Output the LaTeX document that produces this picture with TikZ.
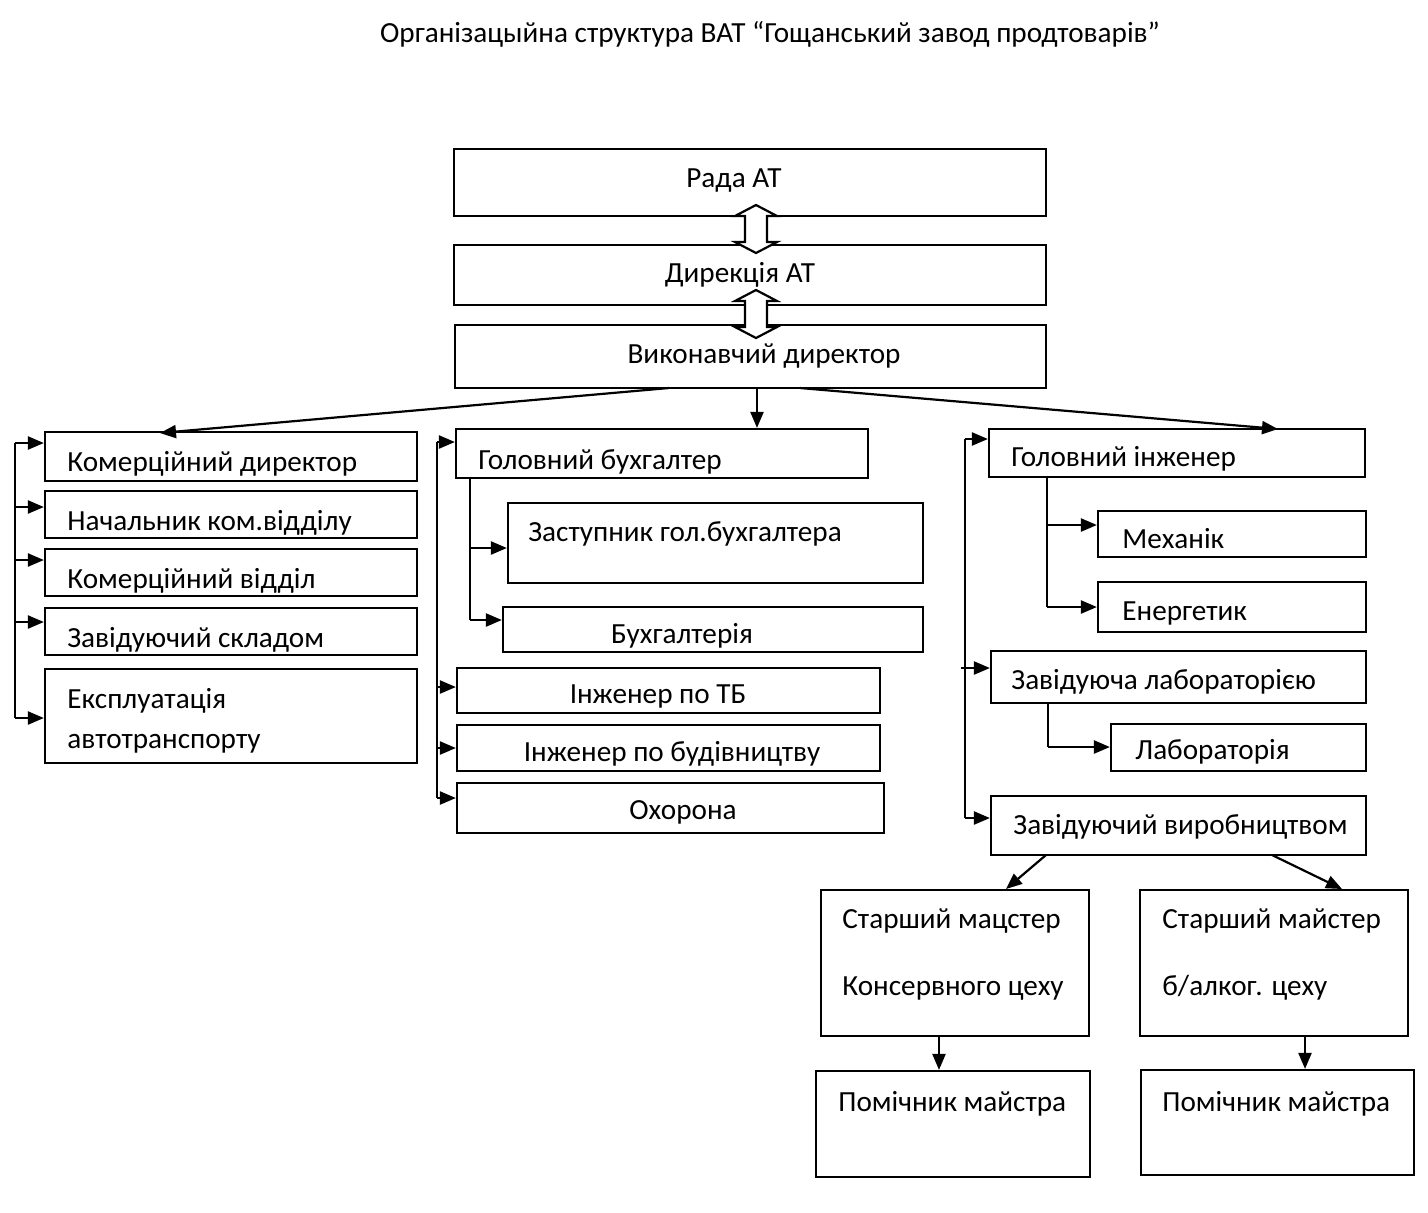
\documentclass[tikz,border=0pt]{standalone}
\usepackage{fontspec}
\setmainfont{Carlito}
\usetikzlibrary{arrows.meta,fit,calc}
\tikzset{
  box/.style={draw, line width=1.1pt, inner sep=0pt, fill=white},
  txt/.style={inner sep=0pt, font=\fontsize{14.6}{17}\selectfont},
  arr/.style={line width=1.1pt, -{Triangle[length=8pt,width=6.5pt]}},
  ln/.style={line width=1.1pt},
  dbl/.style={line width=1.1pt, fill=white, line join=miter}
}
\begin{document}
\begin{tikzpicture}[x=0.5pt,y=-0.5pt]
\useasboundingbox[fill=white] (0,0) rectangle (1428,1212);
% title
\node[txt, anchor=base] (title) at (770,42) {Організацыйна структура ВАТ “Гощанський завод продтоварів”};
% top boxes
\node[box, fit={(454,149)(1046,216)}] (rada) {};
\node[box, fit={(454,245)(1046,305)}] (dir) {};
\node[box, fit={(455,325)(1046,388)}] (vd) {};
\node[txt, anchor=base] (radat) at (734,187) {Рада АТ};
\node[txt, anchor=base] (dirt) at (740,282) {Дирекція АТ};
\node[txt, anchor=base] (vdt) at (764,363) {Виконавчий директор};
% left column
\node[box, fit={(45,432)(417,481)}] (kd) {};
\node[box, fit={(45,491)(417,538)}] (nk) {};
\node[box, fit={(45,549)(417,596)}] (kv) {};
\node[box, fit={(45,608)(417,655)}] (zs) {};
\node[box, fit={(45,669)(417,763)}] (ea) {};
\node[txt, anchor=base west] (kdt) at (67,471) {Комерційний директор};
\node[txt, anchor=base west] (nkt) at (67,530) {Начальник ком.відділу};
\node[txt, anchor=base west] (kvt) at (67,588) {Комерційний відділ};
\node[txt, anchor=base west] (zst) at (67,647) {Завідуючий складом};
\node[txt, anchor=base west] (eat1) at (67,708) {Експлуатація};
\node[txt, anchor=base west] (eat2) at (67,748) {автотранспорту};
% middle column
\node[box, fit={(456,429)(868,478)}] (gb) {};
\node[box, fit={(508,503)(923,583)}] (zgb) {};
\node[box, fit={(503,607)(923,652)}] (bh) {};
\node[box, fit={(457,668)(880,713)}] (itb) {};
\node[box, fit={(457,725)(880,771)}] (ib) {};
\node[box, fit={(457,783)(884,833)}] (oh) {};
\node[txt, anchor=base west] (gbt) at (478,469) {Головний бухгалтер};
\node[txt, anchor=base west] (zgbt) at (528,541) {Заступник гол.бухгалтера};
\node[txt, anchor=base] (bht) at (682,643) {Бухгалтерія};
\node[txt, anchor=base] (itbt) at (658,703) {Інженер по ТБ};
\node[txt, anchor=base] (ibt) at (672,761) {Інженер по будівництву};
\node[txt, anchor=base] (oht) at (683,819) {Охорона};
% right column
\node[box, fit={(989,429)(1365,477)}] (gi) {};
\node[box, fit={(1098,511)(1366,557)}] (mh) {};
\node[box, fit={(1098,582)(1366,632)}] (en) {};
\node[box, fit={(991,651)(1366,703)}] (zl) {};
\node[box, fit={(1111,724)(1366,771)}] (lab) {};
\node[box, fit={(991,796)(1366,855)}] (zv) {};
\node[txt, anchor=base west] (git) at (1011,466) {Головний інженер};
\node[txt, anchor=base west] (mht) at (1122,548) {Механік};
\node[txt, anchor=base west] (ent) at (1122,620) {Енергетик};
\node[txt, anchor=base west] (zlt) at (1011,689) {Завідуюча лабораторією};
\node[txt, anchor=base west] (labt) at (1135,759) {Лабораторія};
\node[txt, anchor=base west] (zvt) at (1013,834) {Завідуючий виробництвом};
% bottom
\node[box, fit={(821,890)(1089,1036)}] (sm1) {};
\node[box, fit={(1140,890)(1408,1036)}] (sm2) {};
\node[box, fit={(816,1071)(1090,1177)}] (pm1) {};
\node[box, fit={(1141,1070)(1414,1175)}] (pm2) {};
\node[txt, anchor=base west] (sm1t1) at (842,928) {Старший мацстер};
\node[txt, anchor=base west] (sm1t2) at (842,995) {Консервного цеху};
\node[txt, anchor=base west] (sm2t1) at (1162,928) {Старший майстер};
\node[txt, anchor=base west] (sm2t2) at (1162,995) {б/алког. цеху};
\node[txt, anchor=base west] (pm1t) at (838,1111) {Помічник майстра};
\node[txt, anchor=base west] (pm2t) at (1162,1111) {Помічник майстра};
% double arrows
\coordinate (da1) at (756,229);
\coordinate (da2) at (756,314);
\foreach \c in {da1,da2}{
  \draw[dbl] ($(\c)+(0,-24)$) -- ++(21,11) -- ++(-10,0) -- ++(0,26) -- ++(10,0)
    -- ++(-21,11) -- ++(-21,-11) -- ++(10,0) -- ++(0,-26) -- ++(-10,0) -- cycle;
}
% from executive director
\coordinate (vdL) at (669,388);
\coordinate (vdM) at (757,388);
\coordinate (vdR) at (800,388);
\coordinate (kdT) at (160,433);
\coordinate (giT) at (1278,429);
\draw[arr] (vdL) -- (kdT);
\draw[arr] (vdM) -- (vdM |- gb.north);
\draw[arr] (vdR) -- (giT);
% left bus
\coordinate (lb1) at (15,443);
\coordinate (lb2) at (15,507);
\coordinate (lb3) at (15,560);
\coordinate (lb4) at (15,622);
\coordinate (lb5) at (15,718);
\draw[ln] (lb1) -- (lb5);
\draw[arr] (lb1) -- (lb1 -| kd.west);
\draw[arr] (lb2) -- (lb2 -| nk.west);
\draw[arr] (lb3) -- (lb3 -| kv.west);
\draw[arr] (lb4) -- (lb4 -| zs.west);
\draw[arr] (lb5) -- (lb5 -| ea.west);
% middle bus
\coordinate (mb1) at (437,442);
\coordinate (mb2) at (437,687);
\coordinate (mb3) at (437,748);
\coordinate (mb4) at (437,798);
\draw[ln] (mb1) -- (mb4);
\draw[arr] (mb1) -- (mb1 -| gb.west);
\draw[arr] (mb2) -- (mb2 -| itb.west);
\draw[arr] (mb3) -- (mb3 -| ib.west);
\draw[arr] (mb4) -- (mb4 -| oh.west);
% sub bus accountant
\coordinate (sb1) at (470,548);
\coordinate (sb2) at (470,620);
\draw[ln] (sb1 |- gb.south) -- (sb2);
\draw[arr] (sb1) -- (sb1 -| zgb.west);
\draw[arr] (sb2) -- (sb2 -| bh.west);
% right bus
\coordinate (rb1) at (965,439);
\coordinate (rb2) at (965,668);
\coordinate (rb2s) at (961,668);
\coordinate (rb3) at (965,818);
\draw[ln] (rb1) -- (rb3);
\draw[arr] (rb1) -- (rb1 -| gi.west);
\draw[arr] (rb2s) -- (rb2 -| zl.west);
\draw[arr] (rb3) -- (rb3 -| zv.west);
% engineer sub bus
\coordinate (eb1) at (1047,525);
\coordinate (eb2) at (1047,607);
\draw[ln] (eb1 |- gi.south) -- (eb2);
\draw[arr] (eb1) -- (eb1 -| mh.west);
\draw[arr] (eb2) -- (eb2 -| en.west);
% lab sub
\coordinate (lb) at (1048,747);
\draw[ln] (lb |- zl.south) -- (lb);
\draw[arr] (lb) -- (lb -| lab.west);
% production
\coordinate (zvL) at (1046,855);
\coordinate (zvR) at (1272,855);
\coordinate (sm1T) at (1006,889);
\coordinate (sm2T) at (1342,889);
\draw[arr] (zvL) -- (sm1T);
\draw[arr] (zvR) -- (sm2T);
\coordinate (s1) at (939,1036);
\coordinate (s2) at (1305,1036);
\draw[arr] (s1) -- (s1 |- pm1.north);
\draw[arr] (s2) -- (s2 |- pm2.north);
\end{tikzpicture}
\end{document}
